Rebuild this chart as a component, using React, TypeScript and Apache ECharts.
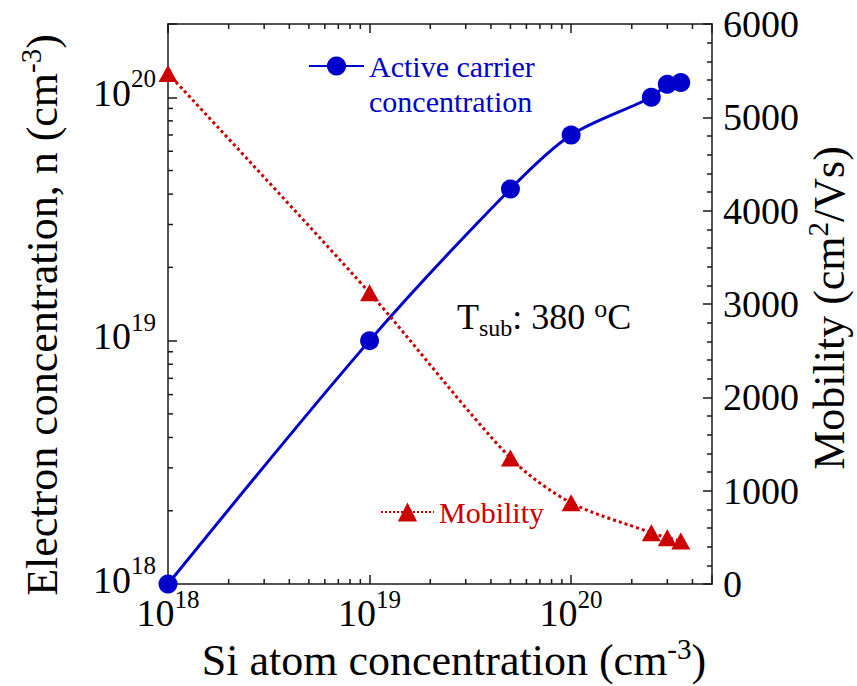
import React, { useEffect, useRef } from 'react';
import * as echarts from 'echarts';

// ---- data ----
const siConcentration = [1e18, 1e19, 5e19, 1e20, 2.5e20, 3e20, 3.5e20];
const carrierConcentration = [1e18, 1e19, 4.2e19, 7.0e19, 1.0e20, 1.13e20, 1.15e20];
const mobility = [5470, 3120, 1350, 870, 550, 495, 462];

const xRange = [1e18, 5e20];
const nRange = [1e18, 2e20];
const mobilityRange = [0, 6000];
const mobilityInterval = 1000;

const xMinorTicks = [
  2e18, 3e18, 4e18, 5e18, 6e18, 7e18, 8e18, 9e18,
  2e19, 3e19, 4e19, 5e19, 6e19, 7e19, 8e19, 9e19,
  2e20, 3e20, 4e20,
];
const yMinorTicks = [
  2e18, 3e18, 4e18, 5e18, 6e18, 7e18, 8e18, 9e18,
  2e19, 3e19, 4e19, 5e19, 6e19, 7e19, 8e19, 9e19,
];

const carrierName = 'Active carrier concentration';
const carrierLegendText = '{l|Active carrier}\n{l|concentration}';
const mobilityName = 'Mobility';
const mobilityLegendText = '{l|Mobility}';
const xTitle = '{n|Si atom concentration (cm}{sup|-3}{n|)}';
const nTitle = '{n|Electron concentration, n (cm}{sup|-3}{n|)}';
const mobilityTitle = '{n|Mobility (cm}{sup|2}{n|/Vs)}';
const annotation = '{t|T}{sub|sub}{t|: 380 }{sup|o}{t|C}';

const FONT = 'Liberation Serif';
const BLUE = '#0000cc';
const RED = '#cc0000';
const AXIS = '#1a1a1a';

const powLabel = (v: number) => {
  const e = Math.log10(v);
  if (Math.abs(e - Math.round(e)) > 1e-6) return '';
  return `{b|10}{s|${Math.round(e)}}`;
};

const powRich = {
  b: { fontSize: 38, lineHeight: 42, fontFamily: FONT, color: '#000' },
  s: { fontSize: 25, lineHeight: 26, padding: [0, 0, 28, 0], fontFamily: FONT, color: '#000' },
};

const nameRich = {
  n: { fontSize: 44, lineHeight: 46, fontFamily: FONT, color: '#000' },
  sup: { fontSize: 29, lineHeight: 28, padding: [0, 0, 22, 0], fontFamily: FONT, color: '#000' },
};

export default function App() {
  const ref = useRef<HTMLDivElement>(null);

  useEffect(() => {
    document.body.style.margin = '0';
    const chart = echarts.init(ref.current!, null, { renderer: 'svg' });

    const axisLine = { show: true, lineStyle: { color: AXIS, width: 1.5 } };
    const tickStyle = { color: AXIS, width: 1.5 };
    const nameStyle = (pad: number[]) => ({
      fontFamily: FONT,
      fontSize: 44,
      lineHeight: 46,
      color: '#000',
      padding: pad,
      rich: nameRich,
    });

    const option: any = {
      animation: false,
      textStyle: { fontFamily: FONT },
      grid: {
        left: 168,
        top: 24,
        right: 145,
        bottom: 102,
        containLabel: false,
        outerBoundsMode: 'none',
      },
      legend: [
        {
          data: [carrierName],
          left: 303,
          top: 8.5,
          orient: 'vertical',
          itemWidth: 55,
          itemHeight: 24,
          selectedMode: false,
          formatter: () => carrierLegendText,
          textStyle: {
            fontFamily: FONT,
            fontSize: 30,
            lineHeight: 35,
            color: BLUE,
            padding: [35, 0, 0, 0],
            rich: { l: { fontFamily: FONT, fontSize: 30, lineHeight: 35, color: BLUE } },
          },
        },
        {
          data: [mobilityName],
          left: 375,
          top: 489.5,
          itemWidth: 53,
          itemHeight: 24,
          selectedMode: false,
          formatter: () => mobilityLegendText,
          textStyle: {
            fontFamily: FONT,
            fontSize: 30,
            lineHeight: 35,
            color: RED,
            rich: { l: { fontFamily: FONT, fontSize: 30, lineHeight: 35, color: RED } },
          },
        },
      ],
      xAxis: [
        {
          type: 'log',
          logBase: 10,
          min: xRange[0],
          max: xRange[1],
          position: 'bottom',
          axisLine,
          axisTick: { show: true, inside: true, length: 9, lineStyle: tickStyle },
          splitLine: { show: false },
          axisLabel: {
            margin: 8,
            formatter: powLabel,
            rich: powRich,
            fontFamily: FONT,
          },
          name: xTitle,
          nameLocation: 'middle',
          nameGap: 53,
          nameMoveOverlap: false,
          nameTextStyle: nameStyle([0, 0, 0, 28]),
        },
        {
          type: 'log',
          logBase: 10,
          min: xRange[0],
          max: xRange[1],
          position: 'top',
          axisLine,
          axisTick: { show: true, inside: true, length: 9, lineStyle: tickStyle },
          splitLine: { show: false },
          axisLabel: { show: false },
        },
      ],
      yAxis: [
        {
          type: 'log',
          logBase: 10,
          min: nRange[0],
          max: nRange[1],
          position: 'left',
          axisLine,
          axisTick: { show: true, inside: true, length: 9, lineStyle: tickStyle },
          splitLine: { show: false },
          axisLabel: {
            margin: 12,
            formatter: powLabel,
            rich: powRich,
            padding: [0, 0, 9, 0],
            fontFamily: FONT,
          },
          name: nTitle,
          nameLocation: 'middle',
          nameRotate: 90,
          nameGap: 103,
          nameMoveOverlap: false,
          nameTextStyle: nameStyle([0, 22, 0, 0]),
        },
        {
          type: 'value',
          min: mobilityRange[0],
          max: mobilityRange[1],
          interval: mobilityInterval,
          position: 'right',
          axisLine,
          axisTick: { show: true, inside: true, length: 9, lineStyle: tickStyle },
          minorTick: { show: true, splitNumber: 5, length: 5, lineStyle: tickStyle },
          splitLine: { show: false },
          axisLabel: {
            margin: 11,
            fontFamily: FONT,
            fontSize: 38,
            color: '#000',
            formatter: (v: number) => String(v),
          },
          name: mobilityTitle,
          nameLocation: 'middle',
          nameRotate: 90,
          nameGap: 94,
          nameMoveOverlap: false,
          nameTextStyle: nameStyle([0, 8, 0, 0]),
        },
      ],
      graphic: [
        {
          type: 'text',
          x: 457,
          y: 317,
          style: {
            text: annotation,
            align: 'left',
            verticalAlign: 'middle',
            fontFamily: FONT,
            rich: {
              t: { fontSize: 36, lineHeight: 40, fontFamily: FONT, fill: '#000' },
              sub: { fontSize: 24, lineHeight: 24, padding: [22, 0, 0, 0], fontFamily: FONT, fill: '#000' },
              sup: { fontSize: 26, lineHeight: 26, padding: [0, 0, 18, 0], fontFamily: FONT, fill: '#000' },
            },
          },
        },
      ],
      series: [
        {
          name: 'xMinor',
          type: 'custom',
          xAxisIndex: 0,
          yAxisIndex: 0,
          silent: true,
          clip: false,
          data: xMinorTicks.map((v) => [v, nRange[0]]),
          renderItem: (params: any, api: any) => {
            const x = api.value(0);
            const b = api.coord([x, nRange[0]]);
            const t = api.coord([x, nRange[1]]);
            const style = { stroke: AXIS, lineWidth: 1.5 };
            return {
              type: 'group',
              children: [
                { type: 'line', shape: { x1: b[0], y1: b[1], x2: b[0], y2: b[1] - 5 }, style },
                { type: 'line', shape: { x1: t[0], y1: t[1], x2: t[0], y2: t[1] + 5 }, style },
              ],
            };
          },
        },
        {
          name: 'yMinor',
          type: 'custom',
          xAxisIndex: 0,
          yAxisIndex: 0,
          silent: true,
          clip: false,
          data: yMinorTicks.map((v) => [xRange[0], v]),
          renderItem: (params: any, api: any) => {
            const y = api.value(1);
            const p = api.coord([xRange[0], y]);
            const style = { stroke: AXIS, lineWidth: 1.5 };
            return { type: 'line', shape: { x1: p[0], y1: p[1], x2: p[0] + 5, y2: p[1] }, style };
          },
        },
        {
          name: carrierName,
          type: 'line',
          xAxisIndex: 0,
          yAxisIndex: 0,
          clip: false,
          smooth: 0.3,
          symbol: 'circle',
          symbolSize: 19,
          itemStyle: { color: BLUE },
          lineStyle: { color: BLUE, width: 3 },
          data: siConcentration.map((x, i) => [x, carrierConcentration[i]]),
          z: 3,
        },
        {
          name: mobilityName,
          type: 'line',
          xAxisIndex: 0,
          yAxisIndex: 1,
          clip: false,
          smooth: 0.3,
          symbol: 'triangle',
          symbolSize: [19, 17],
          itemStyle: { color: RED },
          lineStyle: { color: RED, width: 3, type: 'dotted' },
          data: siConcentration.map((x, i) => [x, mobility[i]]),
          z: 4,
        },
      ],
    };

    chart.setOption(option);
    return () => chart.dispose();
  }, []);

  return <div ref={ref} style={{ width: 857, height: 686 }} />;
}
